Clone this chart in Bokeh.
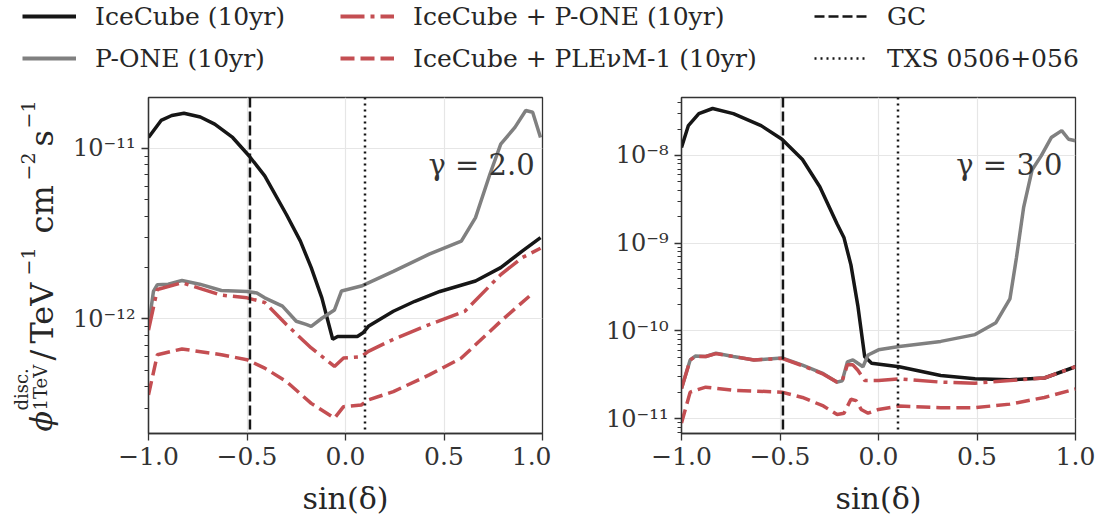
import math
from bokeh.plotting import figure
from bokeh.layouts import column, row
from bokeh.models import (Range1d, FixedTicker, CustomJSTickFormatter,
                          Span, Label, Legend, LegendItem)
from bokeh.embed import file_html
from bokeh.resources import INLINE

# ---------------- data ----------------
# gamma = 2.0 panel
X_IC_G2 = [-1.0, -0.936, -0.882, -0.82, -0.737, -0.664, -0.573, -0.49, -0.41, -0.30,
           -0.229, -0.174, -0.12, -0.065, -0.04, 0.06, 0.089, 0.116, 0.243, 0.352,
           0.479, 0.66, 0.788, 0.897, 0.99]
Y_IC_G2 = [1.16e-11, 1.46e-11, 1.56e-11, 1.61e-11, 1.53e-11, 1.39e-11, 1.16e-11, 9.06e-12,
           6.9e-12, 4.1e-12, 2.86e-12, 2.0e-12, 1.33e-12, 7.6e-13, 7.9e-13, 7.9e-13,
           8.3e-13, 9.06e-13, 1.11e-12, 1.27e-12, 1.45e-12, 1.67e-12, 2.0e-12, 2.5e-12, 3.0e-12]

X_PONE_G2 = [-1.0, -0.975, -0.955, -0.90, -0.83, -0.74, -0.63, -0.5, -0.45, -0.41, -0.32,
             -0.25, -0.2, -0.174, -0.12, -0.056, -0.02, 0.08, 0.116, 0.243, 0.425, 0.588,
             0.66, 0.733, 0.788, 0.86, 0.915, 0.95, 0.99]
Y_PONE_G2 = [9.0e-13, 1.45e-12, 1.59e-12, 1.6e-12, 1.68e-12, 1.6e-12, 1.47e-12, 1.45e-12,
             1.42e-12, 1.33e-12, 1.19e-12, 9.7e-13, 9.3e-13, 9.06e-13, 1.01e-12, 1.13e-12,
             1.46e-12, 1.56e-12, 1.63e-12, 1.9e-12, 2.4e-12, 2.86e-12, 3.93e-12, 7.06e-12,
             1.06e-11, 1.33e-11, 1.67e-11, 1.63e-11, 1.16e-11]

X_ICP_G2 = [-1.0, -0.955, -0.83, -0.63, -0.5, -0.41, -0.30, -0.174, -0.056, -0.01, 0.08,
            0.116, 0.243, 0.425, 0.606, 0.788, 0.897, 0.99]
Y_ICP_G2 = [8.6e-13, 1.49e-12, 1.63e-12, 1.38e-12, 1.33e-12, 1.25e-12, 9.27e-13, 6.76e-13,
            5.27e-13, 5.9e-13, 6.0e-13, 6.46e-13, 7.6e-13, 9.27e-13, 1.11e-12, 1.82e-12,
            2.29e-12, 2.6e-12]

X_ICPL_G2 = [-1.0, -0.955, -0.83, -0.63, -0.5, -0.41, -0.30, -0.174, -0.056, -0.01, 0.08,
             0.116, 0.243, 0.425, 0.588, 0.788, 0.933]
Y_ICPL_G2 = [3.59e-13, 6.17e-13, 6.67e-13, 6.17e-13, 5.77e-13, 5.15e-13, 4.3e-13, 3.2e-13,
             2.62e-13, 3.06e-13, 3.13e-13, 3.35e-13, 3.75e-13, 4.7e-13, 5.9e-13, 9.7e-13,
             1.36e-12]

# gamma = 3.0 panel
X_IC_G3 = [-1.0, -0.965, -0.912, -0.842, -0.737, -0.596, -0.49, -0.386, -0.298, -0.21,
           -0.175, -0.14, -0.105, -0.07, -0.053, -0.035, 0.105, 0.316, 0.49, 0.667, 0.842, 1.0]
Y_IC_G3 = [1.23e-8, 2.19e-8, 3.0e-8, 3.43e-8, 3.0e-8, 2.19e-8, 1.53e-8, 8.98e-9, 4.4e-9,
           1.65e-9, 1.15e-9, 5.65e-10, 1.94e-10, 5.07e-11, 4.67e-11, 4.27e-11, 3.9e-11,
           3.1e-11, 2.84e-11, 2.77e-11, 2.9e-11, 3.9e-11]

X_PONE_G3 = [-1.0, -0.956, -0.93, -0.877, -0.825, -0.737, -0.632, -0.49, -0.386, -0.28,
             -0.21, -0.184, -0.158, -0.13, -0.105, -0.079, -0.053, 0.0, 0.105, 0.316, 0.49,
             0.596, 0.667, 0.70, 0.737, 0.78, 0.825, 0.877, 0.93, 0.965, 1.0]
Y_PONE_G3 = [2.2e-11, 4.65e-11, 5.16e-11, 5.1e-11, 5.55e-11, 5.1e-11, 4.65e-11, 4.9e-11,
             4.07e-11, 3.25e-11, 2.6e-11, 2.7e-11, 4.43e-11, 4.67e-11, 4.27e-11, 3.9e-11,
             5.3e-11, 6.07e-11, 6.63e-11, 7.58e-11, 9.06e-11, 1.24e-10, 2.31e-10, 6.76e-10,
             2.58e-9, 6.88e-9, 9.82e-9, 1.6e-8, 1.92e-8, 1.53e-8, 1.47e-8]

X_ICP_G3 = [-1.0, -0.956, -0.93, -0.877, -0.825, -0.737, -0.632, -0.49, -0.386, -0.28,
            -0.21, -0.184, -0.158, -0.13, -0.105, -0.07, 0.0, 0.105, 0.316, 0.49, 0.667,
            0.842, 1.0]
Y_ICP_G3 = [2.2e-11, 4.65e-11, 5.1e-11, 5.1e-11, 5.5e-11, 5.1e-11, 4.65e-11, 4.85e-11,
            4.0e-11, 3.2e-11, 2.6e-11, 2.7e-11, 4.1e-11, 4.1e-11, 3.55e-11, 2.72e-11,
            2.72e-11, 2.84e-11, 2.6e-11, 2.53e-11, 2.72e-11, 2.9e-11, 3.9e-11]

X_ICPL_G3 = [-1.0, -0.956, -0.877, -0.737, -0.49, -0.386, -0.28, -0.21, -0.175, -0.14,
             -0.114, -0.088, -0.053, 0.0, 0.105, 0.316, 0.49, 0.667, 0.842, 1.0]
Y_ICPL_G3 = [8.9e-12, 2.0e-11, 2.28e-11, 2.1e-11, 2.0e-11, 1.74e-11, 1.39e-11, 1.11e-11,
             1.15e-11, 1.66e-11, 1.6e-11, 1.27e-11, 1.15e-11, 1.27e-11, 1.39e-11, 1.33e-11,
             1.33e-11, 1.46e-11, 1.74e-11, 2.17e-11]

GC_SIN = -0.485   # Galactic Centre
TXS_SIN = 0.099   # TXS 0506+056

X_TICKS = [-1.0, -0.5, 0.0, 0.5, 1.0]
Y_DECADES_G2 = [-13, -12, -11]
Y_DECADES_G3 = [-12, -11, -10, -9, -8]
GAMMA_LABELS = ["γ = 2.0", "γ = 3.0"]
LEGEND_LABELS = ["IceCube (10yr)", "P-ONE (10yr)", "IceCube + P-ONE (10yr)",
                 "IceCube + PLEνM-1 (10yr)", "GC", "TXS 0506+056"]
X_LABEL = "sin(δ)"
Y_LABEL_PARTS = ["ϕ", "disc.", "1TeV", "/", "TeV", "−1", "cm", "−2", "s", "−1"]

# ---------------- styles ----------------
SERIF = "DejaVu Serif"
BLACK = "#161616"
GRAY = "#808080"
RED = "#c44e52"
AX = "#333333"
LW = 3.5
DASHDOT = "24 6 4 6"
DASHED = "14 6"
GC_DASH = "10 4"
TXS_DOT = "2 4"
PANEL_H = 439
LEGEND_H = 88
YLAB_W = 70

Y_FMT = CustomJSTickFormatter(code="""
const e = Math.round(Math.log10(tick));
const sup = {'-':'\u207b','0':'\u2070','1':'\u00b9','2':'\u00b2','3':'\u00b3','4':'\u2074',
             '5':'\u2075','6':'\u2076','7':'\u2077','8':'\u2078','9':'\u2079'};
return '10' + String(e).split('').map(c => sup[c]).join('');
""")
X_FMT = CustomJSTickFormatter(code="return (tick < 0 ? '\u2212' : '') + Math.abs(tick).toFixed(1);")


def log_ticker(decades):
    major = [10.0 ** e for e in decades]
    minor = [m * 10.0 ** e for e in decades for m in range(2, 10)]
    return FixedTicker(ticks=major, minor_ticks=minor)


def make_panel(width, bl, br, ylo, yhi, decades, series, gamma_label, gx, gy):
    p = figure(width=width, height=PANEL_H, y_axis_type="log",
               x_range=Range1d(-1, 1), y_range=Range1d(ylo, yhi),
               output_backend="svg", toolbar_location=None,
               min_border_left=bl, min_border_right=br,
               min_border_top=9, min_border_bottom=94)
    p.background_fill_color = "white"
    p.border_fill_color = "white"
    p.outline_line_color = AX
    p.outline_line_width = 1.3

    p.xaxis.ticker = FixedTicker(ticks=X_TICKS, minor_ticks=[])
    p.xaxis.formatter = X_FMT
    p.yaxis.ticker = log_ticker(decades)
    p.yaxis.formatter = Y_FMT
    for ax in (p.xaxis[0], p.yaxis[0]):
        ax.axis_line_color = AX
        ax.axis_line_width = 1.3
        ax.major_tick_line_color = AX
        ax.major_tick_line_width = 1.3
        ax.major_tick_out = 7
        ax.major_tick_in = 0
        ax.minor_tick_line_color = AX
        ax.minor_tick_out = 4
        ax.minor_tick_in = 0
        ax.major_label_text_font = SERIF
        ax.major_label_text_color = AX
        ax.major_label_standoff = 6
    p.xaxis.minor_tick_line_color = None
    p.xaxis.major_label_text_font_size = "25px"
    p.yaxis.major_label_text_font_size = "24px"
    p.xaxis.axis_label = X_LABEL
    p.xaxis.axis_label_text_font = SERIF
    p.xaxis.axis_label_text_font_size = "30px"
    p.xaxis.axis_label_text_font_style = "normal"
    p.xaxis.axis_label_text_color = "#262626"
    p.xaxis.axis_label_standoff = 13

    p.grid.grid_line_color = "#e6e6e6"
    p.grid.grid_line_width = 1.2
    p.ygrid.minor_grid_line_color = None

    (xic, yic), (xpo, ypo), (xp, yp), (xpl, ypl) = series
    p.line(xic, yic, line_color=BLACK, line_width=LW)
    p.line(xpo, ypo, line_color=GRAY, line_width=LW)
    p.line(xp, yp, line_color=RED, line_width=LW, line_dash=DASHDOT)
    p.line(xpl, ypl, line_color=RED, line_width=LW, line_dash=DASHED)

    p.add_layout(Span(location=GC_SIN, dimension="height", line_color=BLACK,
                      line_width=2.5, line_dash=GC_DASH))
    p.add_layout(Span(location=TXS_SIN, dimension="height", line_color=BLACK,
                      line_width=2.5, line_dash=TXS_DOT))
    p.add_layout(Label(x=gx, y=gy, text=gamma_label, text_font=SERIF,
                       text_font_size="29px", text_color="#333333",
                       text_align="right", text_baseline="alphabetic"))
    return p


p1 = make_panel(551 - YLAB_W, 148 - YLAB_W, 9, 2.13e-13, 1.99e-11, Y_DECADES_G2,
                [(X_IC_G2, Y_IC_G2), (X_PONE_G2, Y_PONE_G2), (X_ICP_G2, Y_ICP_G2),
                 (X_ICPL_G2, Y_ICPL_G2)],
                GAMMA_LABELS[0], 0.96, 8.05e-12)
p2 = make_panel(551, 130, 27, 6.75e-12, 4.58e-8, Y_DECADES_G3,
                [(X_IC_G3, Y_IC_G3), (X_PONE_G3, Y_PONE_G3), (X_ICP_G3, Y_ICP_G3),
                 (X_ICPL_G3, Y_ICPL_G3)],
                GAMMA_LABELS[1], 0.934, 7.7e-9)

# ---------------- y-axis label strip (its own small figure) ----------------
yl = figure(width=YLAB_W, height=PANEL_H, x_range=Range1d(0, 1), y_range=Range1d(0, 1),
            output_backend="svg", toolbar_location=None,
            x_axis_location=None, y_axis_location=None, min_border=0)
yl.grid.visible = False
yl.outline_line_color = None
HALF_PI = math.pi / 2
# placement: (baseline x from left, start y above the frame bottom, size, style)
YLAB_POS = [(41, 2, "30px", "italic"),
            (21, 23, "18px", "normal"),
            (40, 23, "18px", "normal"),
            (41, 73, "32px", "normal"),
            (41, 90, "32px", "normal"),
            (27, 158, "19px", "normal"),
            (41, 200, "32px", "normal"),
            (27, 253, "19px", "normal"),
            (41, 287, "32px", "normal"),
            (27, 305, "19px", "normal")]
for txt, (lx, ly, fs, st) in zip(Y_LABEL_PARTS, YLAB_POS):
    yl.add_layout(Label(x=lx, y=ly, x_units="screen", y_units="screen", text=txt,
                        angle=HALF_PI, text_font=SERIF, text_font_size=fs,
                        text_font_style=st, text_color="#262626",
                        text_align="left", text_baseline="alphabetic"))

# ---------------- legend strip ----------------
lf = figure(width=1102, height=LEGEND_H, x_range=Range1d(0, 1), y_range=Range1d(0, 1),
            output_backend="svg", toolbar_location=None,
            x_axis_location=None, y_axis_location=None, min_border=0)
lf.grid.visible = False
lf.outline_line_color = None
NAN = [math.nan]
r_ic = lf.line(NAN, NAN, line_color=BLACK, line_width=4)
r_po = lf.line(NAN, NAN, line_color=GRAY, line_width=4)
r_p = lf.line(NAN, NAN, line_color=RED, line_width=4, line_dash=DASHDOT)
r_pl = lf.line(NAN, NAN, line_color=RED, line_width=4, line_dash=DASHED)
r_gc = lf.line(NAN, NAN, line_color=BLACK, line_width=2.5, line_dash=GC_DASH)
r_txs = lf.line(NAN, NAN, line_color=BLACK, line_width=2.5, line_dash=TXS_DOT)

groups = [((r_ic, r_po), LEGEND_LABELS[0:2], 22),
          ((r_p, r_pl), LEGEND_LABELS[2:4], 340),
          ((r_gc, r_txs), LEGEND_LABELS[4:6], 814)]
for rends, labels, lx in groups:
    leg = Legend(items=[LegendItem(label=l, renderers=[r]) for r, l in zip(rends, labels)],
                 location=(lx, 15), orientation="vertical",
                 glyph_width=54, glyph_height=30, label_height=30, spacing=12,
                 label_standoff=19, padding=0, margin=0,
                 border_line_color=None, background_fill_alpha=0,
                 label_text_font=SERIF, label_text_font_size="25px",
                 label_text_color="#262626")
    lf.add_layout(leg)

layout = column(lf, row(yl, p1, p2, spacing=0), spacing=0)

with open("out.html", "w", encoding="utf-8") as f:
    f.write(file_html(layout, INLINE))
